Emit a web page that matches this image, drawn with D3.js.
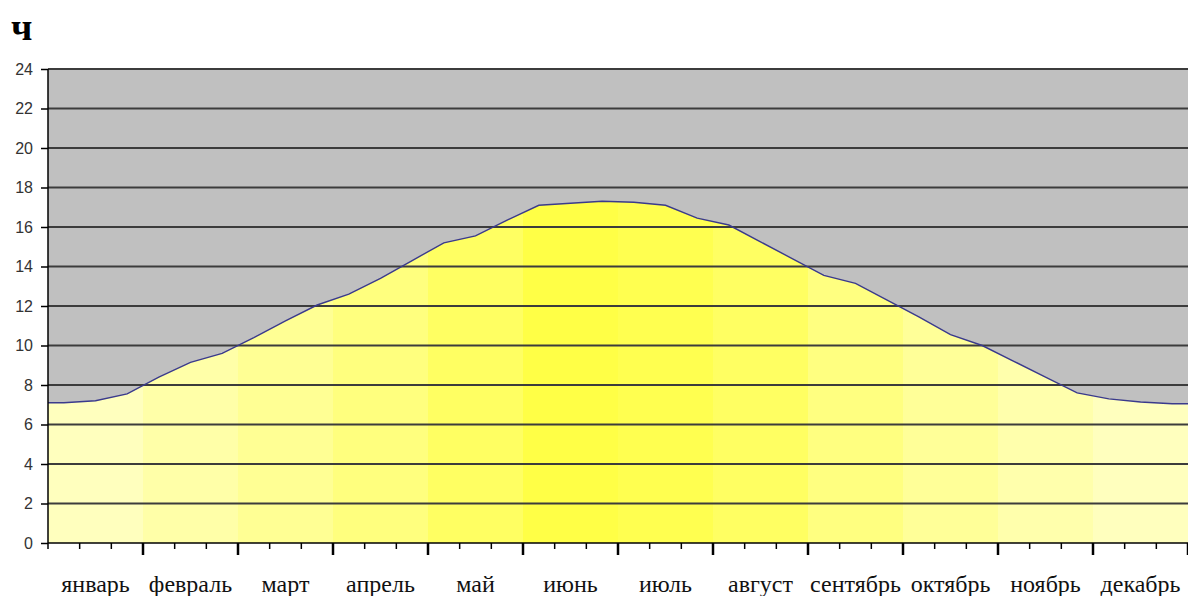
<!DOCTYPE html>
<html><head><meta charset="utf-8">
<script src="https://cdn.jsdelivr.net/npm/d3@7"></script>
<style>body{margin:0;background:#fff}svg{display:block}</style>
</head><body>
<script>
// month names (x categories)
const months = ["январь","февраль","март","апрель","май","июнь","июль","август","сентябрь","октябрь","ноябрь","декабрь"];
// day length in hours, one value per decade (3 per month)
const dayLength = [7.1,7.2,7.55, 8.4,9.15,9.6, 10.4,11.25,12.05, 12.6,13.4,14.3,
  15.2,15.55,16.35, 17.1,17.2,17.3, 17.25,17.1,16.45, 16.1,15.25,14.4,
  13.55,13.15,12.3, 11.45,10.55,10.0, 9.2,8.4,7.6, 7.3,7.14,7.05];
const yTicks = [0,2,4,6,8,10,12,14,16,18,20,22,24];
const monthFill = ["#ffffbe","#ffffa8","#ffff94","#ffff7e","#ffff62","#ffff46","#ffff50","#ffff62","#ffff80","#ffff98","#ffffac","#ffffbe"];
const unitLabel = "ч";

const W=1188,H=596, L=48, R=1188, T=69, B=543;
const svg=d3.select("body").append("svg").attr("width",W).attr("height",H);
const x=d3.scaleLinear().domain([0,36]).range([L,R]);
const y=d3.scaleLinear().domain([0,24]).range([B,T]);

// gray plot background
svg.append("rect").attr("x",L).attr("y",T).attr("width",R-L).attr("height",B-T).attr("fill","#c0c0c0");

// area shape (values at decade centres, held flat to the plot edges)
const pts=[[0,dayLength[0]]].concat(dayLength.map((v,i)=>[i+0.5,v])).concat([[36,dayLength[35]]]);
const area=d3.area().x(d=>x(d[0])).y0(y(0)).y1(d=>y(d[1]));
svg.append("clipPath").attr("id","ac").append("path").attr("d",area(pts));
svg.append("g").attr("clip-path","url(#ac)").selectAll("rect").data(months).join("rect")
  .attr("x",(d,i)=>x(i*3)).attr("width",(d,i)=>x(i*3+3)-x(i*3)+0.5)
  .attr("y",T).attr("height",B-T).attr("fill",(d,i)=>monthFill[i]);

// gridlines
svg.append("g").selectAll("line").data(yTicks.filter(v=>v>0)).join("line")
  .attr("x1",L).attr("x2",R).attr("y1",d=>y(d)).attr("y2",d=>y(d))
  .attr("stroke","#3c3c3c").attr("stroke-width",2);

// curve
const line=d3.line().x(d=>x(d[0])).y(d=>y(d[1]));
svg.append("path").attr("d",line(pts)).attr("fill","none").attr("stroke","#3a3a8c").attr("stroke-width",1.4);

// y axis
const ya=svg.append("g").attr("transform",`translate(${L},0)`)
  .call(d3.axisLeft(y).tickValues(yTicks).tickSize(7).tickPadding(8));
ya.select(".domain").attr("stroke","#000").attr("stroke-width",1.5).attr("d",`M0,${T}V${B}`);
ya.selectAll(".tick line").attr("stroke","#000").attr("stroke-width",1.5);
ya.selectAll("text").attr("font-family","Liberation Sans, Arial, sans-serif").attr("font-size",16).attr("fill","#333");

// x axis
const xa=svg.append("g").attr("transform",`translate(0,${B})`);
xa.append("line").attr("x1",L).attr("x2",R).attr("stroke","#000").attr("stroke-width",1.5);
xa.selectAll("line.t").data(d3.range(0,37)).join("line").attr("class","t")
  .attr("x1",d=>x(d)).attr("x2",d=>x(d)).attr("y1",0).attr("y2",d=>d%3===0&&d>0?12:6)
  .attr("stroke","#000").attr("stroke-width",d=>d%3===0&&d>0?2.5:1.5);
xa.selectAll("text").data(months).join("text")
  .attr("x",(d,i)=>x(i*3+1.5)).attr("y",49).attr("text-anchor","middle")
  .attr("font-family","Liberation Serif, Times New Roman, serif").attr("font-size",24).attr("fill","#111")
  .text(d=>d);

svg.append("text").attr("x",11).attr("y",40).attr("font-family","Liberation Serif, serif")
  .attr("font-weight","bold").attr("font-size",38).text(unitLabel);
</script>
</body></html>
